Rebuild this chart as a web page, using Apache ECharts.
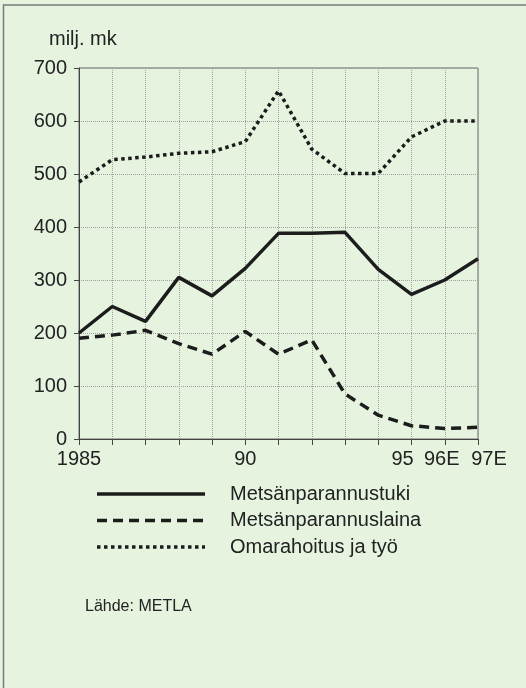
<!DOCTYPE html>
<html>
<head>
<meta charset="utf-8">
<script src="https://cdn.jsdelivr.net/npm/echarts@6/dist/echarts.min.js"></script>
<style>
  html, body { margin: 0; padding: 0; background: #e6f4df; }
  #chart { width: 526px; height: 688px; }
</style>
</head>
<body>
<div id="chart"></div>
<script>
// vuodet ja akselin tekstit
const years = ['1985', '86', '87', '88', '89', '90', '91', '92', '93', '94', '95', '96E', '97E'];
const yearLabels = ['1985', '', '', '', '', '90', '', '', '', '', '95', '96E', '97E'];
const yTicks = [0, 100, 200, 300, 400, 500, 600, 700];

// milj. mk
const tuki = [200, 250, 222, 305, 270, 322, 388, 388, 390, 320, 273, 300, 340];
const laina = [190, 196, 205, 180, 160, 203, 160, 187, 85, 45, 25, 20, 22];
const omarahoitus = [485, 527, 532, 539, 542, 561, 657, 547, 501, 501, 570, 600, 600];

const names = ['Metsänparannustuki', 'Metsänparannuslaina', 'Omarahoitus ja työ'];
const dashes = ['solid', [10, 6], [3.5, 3.5]];

const chart = echarts.init(document.getElementById('chart'));
const font = 'Liberation Sans, Arial, sans-serif';
const ink = '#1c1c1c';
const lbl = { fontFamily: font, fontSize: 20, color: '#222' };

// selite piirretään käsin, jotta viivat ovat ilman pisteitä
const legendGfx = [];
names.forEach((n, i) => {
    const y = 494 + i * 26.5;
    legendGfx.push({
        type: 'line',
        shape: { x1: 97, y1: y, x2: 205, y2: y },
        style: { stroke: ink, lineWidth: 3.5, lineDash: dashes[i] === 'solid' ? null : dashes[i] },
        silent: true
    });
    legendGfx.push({
        type: 'text',
        x: 230,
        y: y,
        style: { text: n, font: '20px ' + font, fill: '#222', verticalAlign: 'middle' },
        silent: true
    });
});

chart.setOption({
    backgroundColor: '#e6f4df',
    animation: false,
    title: {
        text: 'milj. mk',
        left: 44,
        top: 24,
        textStyle: { fontFamily: font, fontSize: 20, fontWeight: 'normal', color: '#222' }
    },
    graphic: [
        {
            type: 'polyline',
            shape: { points: [[3.5, 700], [3.5, 5], [530, 5]] },
            style: { fill: 'none', stroke: '#7a7a7a', lineWidth: 1.5 },
            silent: true
        },
        {
            type: 'text',
            x: 85,
            y: 607,
            style: { text: 'Lähde: METLA', font: '16px ' + font, fill: '#222', verticalAlign: 'middle' }
        }
    ].concat(legendGfx),
    grid: {
        left: 79, right: 48, top: 68, bottom: 249,
        show: true, borderColor: '#666', borderWidth: 1, backgroundColor: 'transparent'
    },
    xAxis: {
        type: 'category',
        boundaryGap: false,
        data: years,
        axisLine: { lineStyle: { color: '#444', width: 1 } },
        axisTick: { show: true, length: 6, lineStyle: { color: '#444' } },
        axisLabel: {
            interval: 0,
            margin: 10,
            ...lbl,
            formatter: (v, i) => {
                const t = yearLabels[i];
                if (t === '95') return '{a|' + t + '}';
                if (t === '96E') return '{b|' + t + '}';
                if (t === '97E') return '{c|' + t + '}';
                return t;
            },
            rich: {
                a: { ...lbl, padding: [0, 18, 0, 0] },
                b: { ...lbl, padding: [0, 6, 0, 0] },
                c: { ...lbl, padding: [0, 0, 0, 22] }
            }
        },
        splitLine: { show: true, lineStyle: { color: '#a0a0a0', width: 1, type: [1, 1] } }
    },
    yAxis: {
        type: 'value',
        min: yTicks[0],
        max: yTicks[yTicks.length - 1],
        interval: 100,
        axisLine: { show: true, lineStyle: { color: '#444', width: 1 } },
        axisTick: { show: true, length: 5, lineStyle: { color: '#444' } },
        axisLabel: { margin: 12, ...lbl },
        splitLine: { show: true, lineStyle: { color: '#a0a0a0', width: 1, type: [1, 1] } }
    },
    series: [
        {
            name: names[0],
            type: 'line',
            data: tuki,
            symbol: 'none',
            lineStyle: { color: ink, width: 3.5, type: dashes[0] }
        },
        {
            name: names[1],
            type: 'line',
            data: laina,
            symbol: 'none',
            lineStyle: { color: ink, width: 3.5, type: dashes[1] }
        },
        {
            name: names[2],
            type: 'line',
            data: omarahoitus,
            symbol: 'none',
            lineStyle: { color: ink, width: 3.5, type: dashes[2] }
        }
    ]
});
</script>
</body>
</html>
